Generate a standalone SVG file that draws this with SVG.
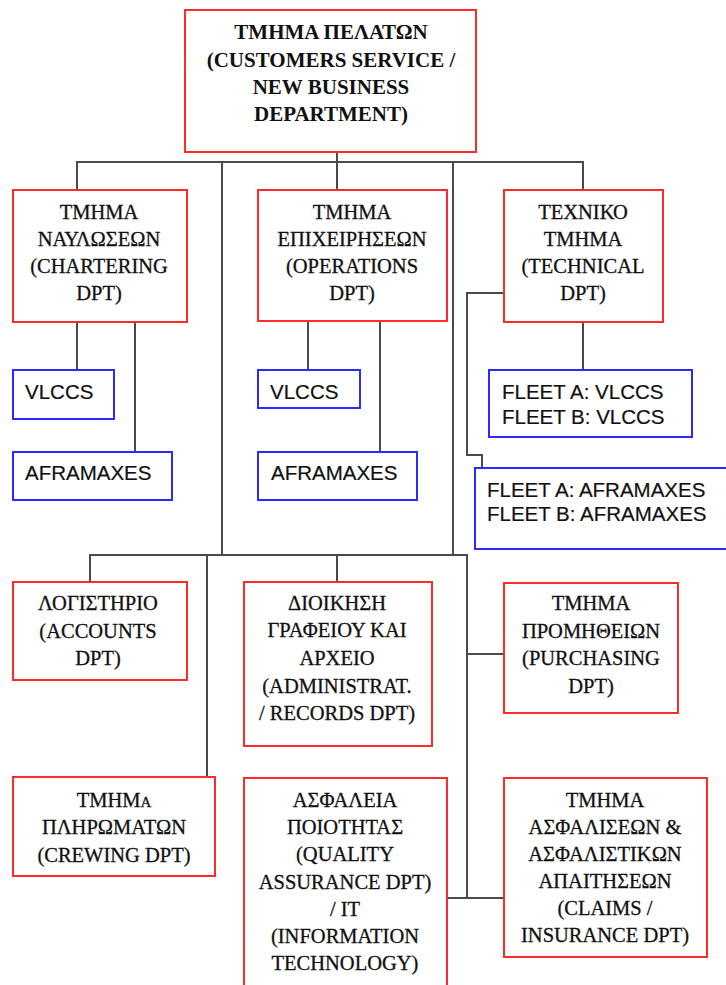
<svg xmlns="http://www.w3.org/2000/svg" width="726" height="985" viewBox="0 0 726 985">
  <style>
    .dept { fill: #ffffff; stroke: #ff2b2b; stroke-width: 2; }
    .fleet { fill: #ffffff; stroke: #2b2bff; stroke-width: 2; }
    .link { fill: none; stroke: #4a4a4a; stroke-width: 2; }
    .serif { font-family: "Liberation Serif", "Times New Roman", serif; font-size: 20.5px; fill: #111111; stroke: #111111; stroke-width: 0.3; text-anchor: middle; }
    .bold { font-family: "Liberation Serif", "Times New Roman", serif; font-size: 21px; font-weight: bold; fill: #111111; text-anchor: middle; }
    .sans { font-family: "Liberation Sans", Arial, sans-serif; font-size: 20.5px; fill: #111111; stroke: #111111; stroke-width: 0.2; }
  </style>
  <rect width="726" height="985" fill="#ffffff"/>

  <!-- connectors -->
  <g id="connectors" class="link">
    <!-- top-level bus -->
    <path d="M337,152 V190"/>
    <path d="M77,190 V162 H583 V190"/>
    <path d="M222,162 V555"/>
    <path d="M453,162 V555"/>
    <!-- chartering children -->
    <path d="M77,322 V370"/>
    <path d="M135,322 V452"/>
    <!-- operations children -->
    <path d="M308,321 V370"/>
    <path d="M380,321 V452"/>
    <!-- technical children -->
    <path d="M583,322 V370"/>
    <path d="M504,293 H467 V455 H482 V468"/>
    <!-- lower bus -->
    <path d="M90,582 V555 H467 V898"/>
    <path d="M337,555 V582"/>
    <path d="M207,555 V777"/>
    <path d="M467,654 H504"/>
    <path d="M447,898 H504"/>
  </g>

  <g id="customers">
    <rect class="dept" x="185" y="10" width="291" height="142"/>
    <text class="bold" x="331" y="39">ΤΜΗΜΑ ΠΕΛΑΤΩΝ</text>
    <text class="bold" x="331" y="67">(CUSTOMERS SERVICE /</text>
    <text class="bold" x="331" y="94">NEW BUSINESS</text>
    <text class="bold" x="331" y="121">DEPARTMENT)</text>
  </g>

  <g id="chartering">
    <rect class="dept" x="13" y="190" width="174" height="132"/>
    <text class="serif" x="99" y="219">ΤΜΗΜΑ</text>
    <text class="serif" x="99" y="246">ΝΑΥΛΩΣΕΩΝ</text>
    <text class="serif" x="99" y="273">(CHARTERING</text>
    <text class="serif" x="99" y="300">DPT)</text>
  </g>

  <g id="operations">
    <rect class="dept" x="258" y="190" width="189" height="131"/>
    <text class="serif" x="352" y="219">ΤΜΗΜΑ</text>
    <text class="serif" x="352" y="246">ΕΠΙΧΕΙΡΗΣΕΩΝ</text>
    <text class="serif" x="352" y="273">(OPERATIONS</text>
    <text class="serif" x="352" y="300">DPT)</text>
  </g>

  <g id="technical">
    <rect class="dept" x="504" y="190" width="159" height="132"/>
    <text class="serif" x="583" y="219">ΤΕΧΝΙΚΟ</text>
    <text class="serif" x="583" y="246">ΤΜΗΜΑ</text>
    <text class="serif" x="583" y="273">(TECHNICAL</text>
    <text class="serif" x="583" y="300">DPT)</text>
  </g>

  <g id="chartering-vlccs">
    <rect class="fleet" x="13" y="370" width="101" height="49"/>
    <text class="sans" x="25" y="399">VLCCS</text>
  </g>
  <g id="chartering-aframaxes">
    <rect class="fleet" x="13" y="452" width="159" height="48"/>
    <text class="sans" x="25" y="480">AFRAMAXES</text>
  </g>

  <g id="operations-vlccs">
    <rect class="fleet" x="258" y="370" width="102" height="38"/>
    <text class="sans" x="270" y="399">VLCCS</text>
  </g>
  <g id="operations-aframaxes">
    <rect class="fleet" x="258" y="452" width="159" height="48"/>
    <text class="sans" x="271" y="480">AFRAMAXES</text>
  </g>

  <g id="fleet-vlccs">
    <rect class="fleet" x="489" y="370" width="203" height="67"/>
    <text class="sans" x="502" y="399">FLEET A: VLCCS</text>
    <text class="sans" x="502" y="424">FLEET B: VLCCS</text>
  </g>
  <g id="fleet-aframaxes">
    <rect class="fleet" x="475" y="468" width="270" height="81"/>
    <text class="sans" x="487" y="497">FLEET A: AFRAMAXES</text>
    <text class="sans" x="487" y="521">FLEET B: AFRAMAXES</text>
  </g>

  <g id="accounts">
    <rect class="dept" x="13" y="582" width="174" height="98"/>
    <text class="serif" x="98" y="610">ΛΟΓΙΣΤΗΡΙΟ</text>
    <text class="serif" x="98" y="638">(ACCOUNTS</text>
    <text class="serif" x="98" y="665">DPT)</text>
  </g>

  <g id="administration">
    <rect class="dept" x="244" y="582" width="188" height="164"/>
    <text class="serif" x="337" y="610">ΔΙΟΙΚΗΣΗ</text>
    <text class="serif" x="337" y="637">ΓΡΑΦΕΙΟΥ ΚΑΙ</text>
    <text class="serif" x="337" y="665">ΑΡΧΕΙΟ</text>
    <text class="serif" x="337" y="693">(ADMINISTRAT.</text>
    <text class="serif" x="337" y="720">/ RECORDS DPT)</text>
  </g>

  <g id="purchasing">
    <rect class="dept" x="504" y="583" width="174" height="130"/>
    <text class="serif" x="591" y="610">ΤΜΗΜΑ</text>
    <text class="serif" x="591" y="638">ΠΡΟΜΗΘΕΙΩΝ</text>
    <text class="serif" x="591" y="665">(PURCHASING</text>
    <text class="serif" x="591" y="693">DPT)</text>
  </g>

  <g id="crewing">
    <rect class="dept" x="13" y="777" width="202" height="99"/>
    <text class="serif" x="114" y="807">ΤΜΗΜ<tspan font-size="15">Α</tspan></text>
    <text class="serif" x="114" y="834">ΠΛΗΡΩΜΑΤΩΝ</text>
    <text class="serif" x="114" y="862">(CREWING DPT)</text>
  </g>

  <g id="quality">
    <rect class="dept" x="244" y="778" width="203" height="220"/>
    <text class="serif" x="345" y="807">ΑΣΦΑΛΕΙΑ</text>
    <text class="serif" x="345" y="834">ΠΟΙΟΤΗΤΑΣ</text>
    <text class="serif" x="345" y="861">(QUALITY</text>
    <text class="serif" x="345" y="889">ASSURANCE DPT)</text>
    <text class="serif" x="345" y="916">/ IT</text>
    <text class="serif" x="345" y="943">(INFORMATION</text>
    <text class="serif" x="345" y="970">TECHNOLOGY)</text>
  </g>

  <g id="claims">
    <rect class="dept" x="504" y="778" width="203" height="179"/>
    <text class="serif" x="605" y="807">ΤΜΗΜΑ</text>
    <text class="serif" x="605" y="834">ΑΣΦΑΛΙΣΕΩΝ &amp;</text>
    <text class="serif" x="605" y="861">ΑΣΦΑΛΙΣΤΙΚΩΝ</text>
    <text class="serif" x="605" y="888">ΑΠΑΙΤΗΣΕΩΝ</text>
    <text class="serif" x="605" y="915">(CLAIMS /</text>
    <text class="serif" x="605" y="942">INSURANCE DPT)</text>
  </g>
</svg>
